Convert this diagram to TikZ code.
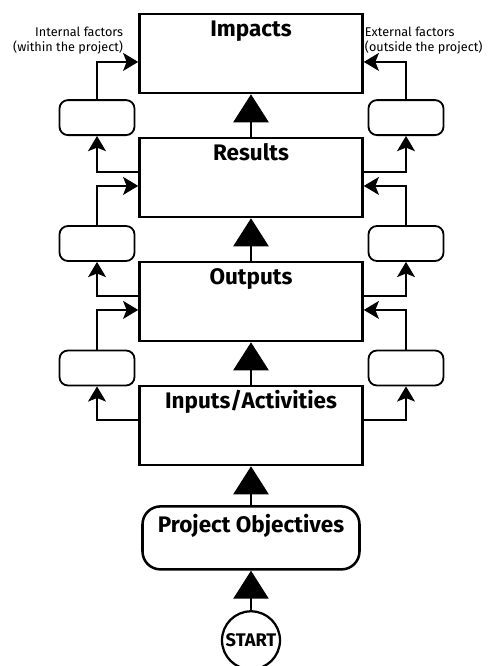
\documentclass[tikz,border=0pt]{standalone}
\usepackage{fontspec}
\setmainfont{Fira Sans}
\usetikzlibrary{arrows.meta,positioning}

\begin{document}
\begin{tikzpicture}[node distance=3.1cm,
      stage node/.style={rectangle,draw,line width=1.8pt,minimum width=5.575cm,
        inner sep=0pt,text height=0.56cm,text depth=1.415cm,
        font=\bfseries\fontsize{16}{19}\selectfont},
      goal node/.style={rectangle,draw,line width=1.8pt,rounded corners=0.45cm,
        minimum width=5.425cm,inner sep=0pt,text height=0.66cm,text depth=0.915cm,
        font=\bfseries\fontsize{16}{19}\selectfont},
      start node/.style={circle,draw,line width=1.6pt,minimum size=1.45cm,
        inner sep=0pt,font=\bfseries\fontsize{13}{15}\selectfont},
      factor node/.style={rectangle,draw,line width=1.3pt,rounded corners=6pt,
        minimum width=1.875cm,minimum height=0.875cm},
      note/.style={font=\fontsize{9}{10.6}\selectfont},
      big arrow/.style={line width=1.8pt,-{Triangle[width=0.875cm,length=0.7cm]}},
      small arrow/.style={line width=1pt,-{Stealth[width=0.45cm,length=0.38cm,inset=0.09cm]}}]
  \useasboundingbox (0,0) rectangle (12.225,16.65);

  \node[stage node] (imp) at (6.275,15.3125) {Impacts};
  \node[stage node] (res) [below of=imp] {Results};
  \node[stage node] (outp) [below of=res] {Outputs};
  \node[stage node] (inp) [below of=outp] {Inputs/Activities};
  \node[goal node] (obj) [below of=inp,node distance=2.81cm] {Project Objectives};
  \node[start node] (start) [below of=obj,node distance=2.56cm] {START};

  \node[factor node] (int1) at (2.425,13.71) {};
  \node[factor node] (int2) at (2.425,10.5625) {};
  \node[factor node] (int3) at (2.425,7.45) {};
  \node[factor node] (ext1) at (10.15,13.71) {};
  \node[factor node] (ext2) at (10.15,10.5625) {};
  \node[factor node] (ext3) at (10.15,7.45) {};

  \node[note,align=right,anchor=east] (intnote) at (3.2,15.64)
    {Internal factors\\(within the project)};
  \node[note,align=left,anchor=west] (extnote) at (9.0,15.64)
    {External factors\\(outside the project)};

  \path (start) edge[big arrow] (obj)
        (obj) edge[big arrow] (inp)
        (inp) edge[big arrow] (outp)
        (outp) edge[big arrow] (res)
        (res) edge[big arrow] (imp);

  % left side
  \draw[small arrow] ([yshift=4pt]inp.west) -| (int3);
  \draw[small arrow] (int3) |- ([yshift=-6pt]outp.west);
  \draw[small arrow] ([yshift=4pt]outp.west) -| (int2);
  \draw[small arrow] (int2) |- ([yshift=-6pt]res.west);
  \draw[small arrow] ([yshift=4pt]res.west) -| (int1);
  \draw[small arrow] (int1) |- ([yshift=-6pt]imp.west);

  % right side
  \draw[small arrow] ([yshift=4pt]inp.east) -| (ext3);
  \draw[small arrow] (ext3) |- ([yshift=-6pt]outp.east);
  \draw[small arrow] ([yshift=4pt]outp.east) -| (ext2);
  \draw[small arrow] (ext2) |- ([yshift=-6pt]res.east);
  \draw[small arrow] ([yshift=4pt]res.east) -| (ext1);
  \draw[small arrow] (ext1) |- ([yshift=-6pt]imp.east);
\end{tikzpicture}
\end{document}
